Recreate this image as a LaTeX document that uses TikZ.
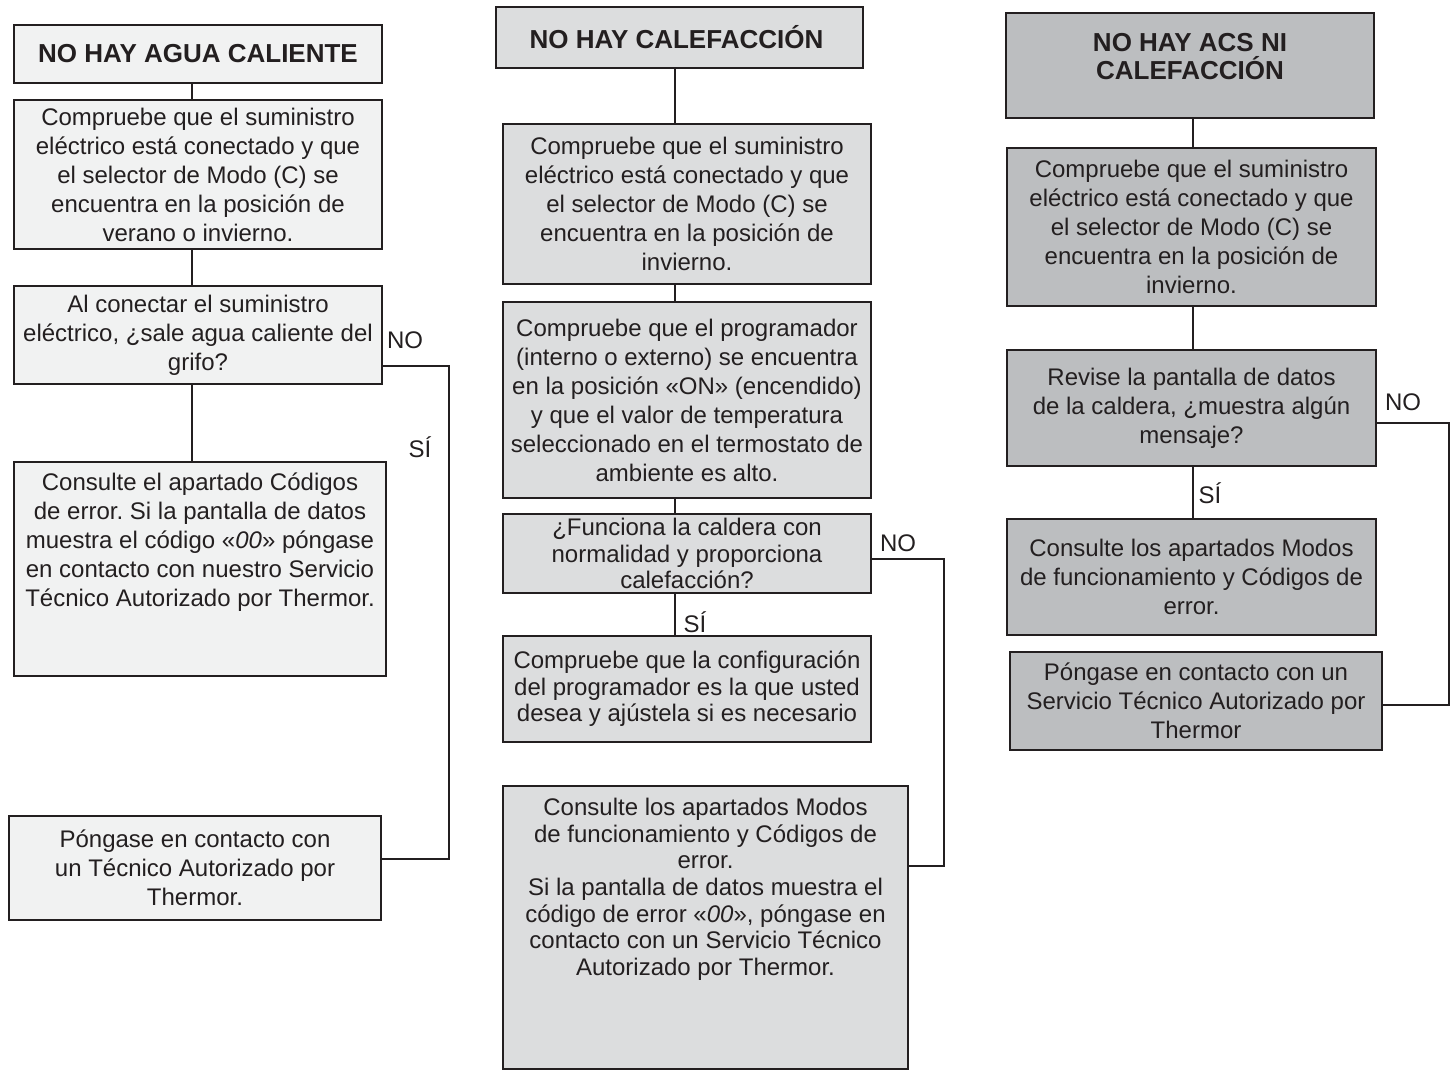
\documentclass[tikz,border=0pt]{standalone}
\usepackage{fontspec}
\setmainfont{Liberation Sans}
\frenchspacing
\definecolor{lineC}{HTML}{231F20}
\definecolor{fillA}{HTML}{F1F2F2}
\definecolor{fillB}{HTML}{DCDDDE}
\definecolor{fillC}{HTML}{BCBEC0}
% texto alineado arriba dentro de una caja de alto fijo
\newcommand{\toptxt}[4]{\parbox[c][#1][t]{#2}{\centering\rule{0pt}{#3}#4}}
\begin{document}
\begin{tikzpicture}[x=0.5pt, y=-0.5pt, line width=1pt, color=lineC,
    box/.style={draw=lineC, rectangle, inner sep=0pt, align=center, font=\fontsize{12}{14.5}\selectfont},
    tight/.style={font=\fontsize{12}{13.3}\selectfont},
    title/.style={box, font=\fontsize{13}{14}\selectfont\bfseries},
    lbl/.style={inner sep=0pt, font=\fontsize{12}{14}\selectfont}]
\useasboundingbox (0,0) rectangle (1455,1071);

% --- NO HAY AGUA CALIENTE ---
\node[title, fill=fillA, minimum width=184pt, minimum height=29pt] (t1) at (198,54) {NO HAY AGUA CALIENTE};
\node[box, fill=fillA, minimum width=184pt, minimum height=74.5pt] (a1) at (198,174.5)
  {Compruebe que el suministro\\eléctrico está conectado y que\\el selector de Modo (C) se\\encuentra en la posición de\\verano o invierno.};
\node[box, fill=fillA, minimum width=184pt, minimum height=49pt] (a2) at (198,335)
  {Al conectar el suministro\\eléctrico, ¿sale agua caliente del\\grifo?};
\node[box, fill=fillA] (a3) at (200,569)
  {\toptxt{107pt}{186pt}{14pt}{Consulte el apartado Códigos\\de error. Si la pantalla de datos\\muestra el código «\textit{00}» póngase\\en contacto con nuestro Servicio\\Técnico Autorizado por Thermor.}};
\node[box, fill=fillA, minimum width=186pt, minimum height=52pt] (a4) at (195,868)
  {Póngase en contacto con\\un Técnico Autorizado por\\Thermor.};

% --- NO HAY CALEFACCION ---
\node[title, fill=fillB, minimum width=183.5pt, minimum height=30.5pt] (t2) at (679.5,37.5) {NO HAY CALEFACCIÓN\hspace{3pt}};
\node[box, fill=fillB, minimum width=184pt, minimum height=80pt] (b1) at (687,204)
  {Compruebe que el suministro\\eléctrico está conectado y que\\el selector de Modo (C) se\\encuentra en la posición de\\invierno.};
\node[box, fill=fillB, minimum width=184pt, minimum height=98pt] (b2) at (687,400)
  {Compruebe que el programador\\(interno o externo) se encuentra\\en la posición «ON» (encendido)\\y que el valor de temperatura\\seleccionado en el termostato de\\ambiente es alto.};
\node[box, tight, fill=fillB, minimum width=184pt, minimum height=39.5pt] (b3) at (687,553.5)
  {¿Funciona la caldera con\\normalidad y proporciona\\calefacción?};
\node[box, tight, fill=fillB, minimum width=184pt, minimum height=53pt] (b4) at (687,689)
  {Compruebe que la configuración\\del programador es la que usted\\desea y ajústela si es necesario};
\node[box, tight, fill=fillB] (b5) at (705.5,927.5)
  {\toptxt{141.5pt}{202.5pt}{14.8pt}{Consulte los apartados Modos\\de funcionamiento y Códigos de\\error.\\Si la pantalla de datos muestra el\\código de error «\textit{00}», póngase en\\contacto con un Servicio Técnico\\Autorizado por Thermor.}};

% --- NO HAY ACS NI CALEFACCION ---
\node[title, fill=fillC] (t3) at (1190,65.5)
  {\toptxt{52.5pt}{184pt}{19.2pt}{NO HAY ACS NI\\CALEFACCIÓN}};
\node[box, fill=fillC, minimum width=184.5pt, minimum height=79pt] (c1) at (1191.5,227)
  {Compruebe que el suministro\\eléctrico está conectado y que\\el selector de Modo (C) se\\encuentra en la posición de\\invierno.};
\node[box, fill=fillC, minimum width=184.5pt, minimum height=58pt] (c2) at (1191.5,408)
  {Revise la pantalla de datos\\de la caldera, ¿muestra algún\\mensaje?};
\node[box, fill=fillC, minimum width=184.5pt, minimum height=58pt] (c3) at (1191.5,577)
  {Consulte los apartados Modos\\de funcionamiento y Códigos de\\error.};
\node[box, fill=fillC, minimum width=186pt, minimum height=49pt] (c4) at (1196,701)
  {Póngase en contacto con un\\Servicio Técnico Autorizado por\\Thermor};

% lineas verticales
\coordinate (sp1) at (192,0);
\coordinate (sp2) at (675,0);
\coordinate (sp3) at (1193,0);
\draw (t1.south -| sp1) -- (a1.north -| sp1);
\draw (a1.south -| sp1) -- (a2.north -| sp1);
\draw (a2.south -| sp1) -- (a3.north -| sp1);
\draw (t2.south -| sp2) -- (b1.north -| sp2);
\draw (b1.south -| sp2) -- (b2.north -| sp2);
\draw (b2.south -| sp2) -- (b3.north -| sp2);
\draw (b3.south -| sp2) -- (b4.north -| sp2);
\draw (t3.south -| sp3) -- (c1.north -| sp3);
\draw (c1.south -| sp3) -- (c2.north -| sp3);
\draw (c2.south -| sp3) -- (c3.north -| sp3);

% ramas NO
\coordinate (r1a) at (449,366); \coordinate (r1b) at (449,859);
\coordinate (r2a) at (944,559); \coordinate (r2b) at (944,866);
\coordinate (r3a) at (1449,423); \coordinate (r3b) at (1449,705);
\draw (a2.east |- r1a) -- (r1a) -- (r1b) -- (a4.east |- r1b);
\draw (b3.east |- r2a) -- (r2a) -- (r2b) -- (b5.east |- r2b);
\draw (c2.east |- r3a) -- (r3a) -- (r3b) -- (c4.east |- r3b);

% etiquetas
\node[lbl] (no1) at (405,340) {NO};
\node[lbl] (si1) at (420,447) {SÍ};
\node[lbl] (no2) at (898,543) {NO};
\node[lbl] (si2) at (695,622) {SÍ};
\node[lbl] (no3) at (1403,402) {NO};
\node[lbl] (si3) at (1210,493) {SÍ};
\end{tikzpicture}
\end{document}
